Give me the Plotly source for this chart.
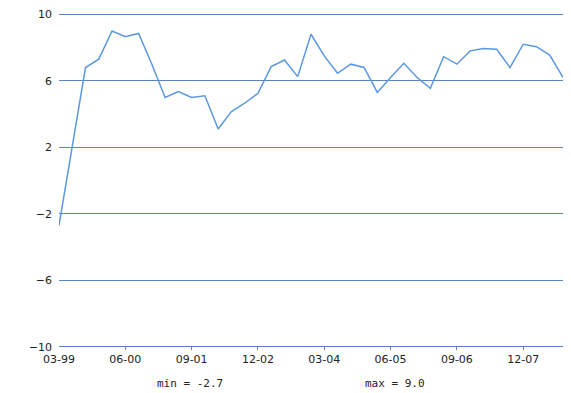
import plotly.graph_objects as go

quarters = [
    "03-99", "06-99", "09-99", "12-99",
    "03-00", "06-00", "09-00", "12-00",
    "03-01", "06-01", "09-01", "12-01",
    "03-02", "06-02", "09-02", "12-02",
    "03-03", "06-03", "09-03", "12-03",
    "03-04", "06-04", "09-04", "12-04",
    "03-05", "06-05", "09-05", "12-05",
    "03-06", "06-06", "09-06", "12-06",
    "03-07", "06-07", "09-07", "12-07",
    "03-08", "06-08", "09-08",
]
values = [
    -2.7, 2.0, 6.8, 7.3, 9.0, 8.65, 8.85, 7.0, 5.0, 5.35,
    5.0, 5.1, 3.1, 4.15, 4.65, 5.25, 6.85, 7.25, 6.25, 8.8,
    7.5, 6.45, 7.0, 6.8, 5.3, 6.2, 7.05, 6.2, 5.55, 7.45,
    7.0, 7.8, 7.95, 7.9, 6.8, 8.2, 8.05, 7.55, 6.2,
]
tick_labels = ["03-99", "06-00", "09-01", "12-02", "03-04", "06-05", "09-06", "12-07"]
y_ticks = [-10, -6, -2, 2, 6, 10]

grid_color = "#5a84c2"
line_color = "#5b98e2"

x_idx = list(range(len(quarters)))
tick_pos = [quarters.index(t) for t in tick_labels]

fig = go.Figure()
fig.add_trace(go.Scatter(
    x=x_idx, y=values, mode="lines",
    line=dict(color=line_color, width=1.5),
    hoverinfo="skip", showlegend=False, cliponaxis=False,
))

vmin = min(values)
vmax = max(values)

fig.update_layout(
    width=571, height=393,
    margin=dict(l=59, r=8, t=11, b=43),
    paper_bgcolor="white", plot_bgcolor="white",
    font=dict(family="DejaVu Sans", size=11, color="#222222"),
    xaxis=dict(
        range=[0, len(quarters) - 1],
        tickvals=tick_pos, ticktext=tick_labels,
        showgrid=False, zeroline=False,
        showline=False,
        ticks="inside", ticklen=3, tickcolor=grid_color, tickwidth=1,
        ticklabelstandoff=1,
        tickfont=dict(family="DejaVu Sans", size=11, color="#222222"),
    ),
    yaxis=dict(
        range=[-10.2, 10.2],
        tickvals=y_ticks,
        showgrid=True, gridcolor=grid_color, gridwidth=1.2,
        zeroline=False, showline=False, ticks="",
        ticklabelstandoff=6,
        tickfont=dict(family="DejaVu Sans", size=11, color="#222222"),
    ),
    annotations=[
        dict(text=f"min = {vmin:.1f}", xref="paper", yref="paper",
             x=(190 - 59) / 504, y=-0.098, xanchor="center", yanchor="middle",
             showarrow=False, font=dict(family="DejaVu Sans Mono", size=11, color="#222222")),
        dict(text=f"max = {vmax:.1f}", xref="paper", yref="paper",
             x=(395 - 59) / 504, y=-0.098, xanchor="center", yanchor="middle",
             showarrow=False, font=dict(family="DejaVu Sans Mono", size=11, color="#222222")),
    ],
)

fig.write_html("out.html")
